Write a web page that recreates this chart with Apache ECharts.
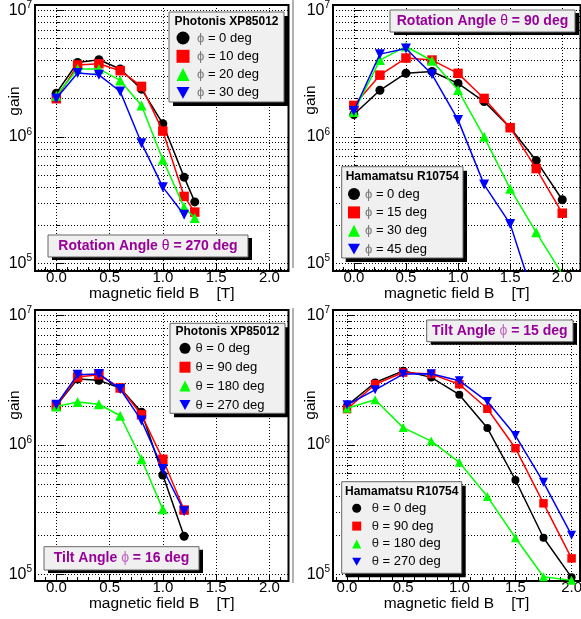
<!DOCTYPE html>
<html><head><meta charset="utf-8">
<script src="https://cdn.jsdelivr.net/npm/echarts@6/dist/echarts.min.js"></script>
<style>html,body{margin:0;padding:0;background:#fff}#c{width:581px;height:619px}</style>
</head><body><div id="c"></div>
<script>
// ---------------- data ----------------
const fieldP1 = [0.0, 0.2, 0.4, 0.6, 0.8, 1.0, 1.2, 1.3];
const fieldP3 = [0.0, 0.2, 0.4, 0.6, 0.8, 1.0, 1.2];
const fieldP24 = [0.0, 0.25, 0.5, 0.75, 1.0, 1.25, 1.5, 1.75, 2.0];

const namesP1 = ['ϕ = 0 deg', 'ϕ = 10 deg', 'ϕ = 20 deg', 'ϕ = 30 deg'];
const namesP2 = ['ϕ = 0 deg', 'ϕ = 15 deg', 'ϕ = 30 deg', 'ϕ = 45 deg'];
const namesP3 = ['θ = 0 deg', 'θ = 90 deg', 'θ = 180 deg', 'θ = 270 deg'];
const namesP4 = ['θ = 0 deg', 'θ = 90 deg', 'θ = 180 deg', 'θ = 270 deg'];

// Panel 1: Photonis XP85012, rotation angle theta = 270 deg
const p1Phi0  = [2.21e6, 3.87e6, 4.06e6, 3.43e6, 2.38e6, 1.27e6, 4.8e5, 3.06e5];
const p1Phi10 = [2.0e6, 3.69e6, 3.78e6, 3.33e6, 2.5e6, 1.11e6, 3.38e5, 2.54e5];
const p1Phi20 = [2.11e6, 3.43e6, 3.44e6, 2.79e6, 1.77e6, 6.58e5, 2.78e5, 2.28e5];
const p1Phi30 = [2.01e6, 3.19e6, 3.09e6, 2.28e6, 8.9e5, 4.0e5, 2.42e5];

// Panel 2: Hamamatsu R10754, rotation angle theta = 90 deg
const p2Phi0  = [1.50e6, 2.33e6, 3.18e6, 3.28e6, 2.64e6, 1.90e6, 1.18e6, 6.49e5, 3.18e5];
const p2Phi15 = [1.77e6, 3.07e6, 4.19e6, 4.04e6, 3.17e6, 2.01e6, 1.18e6, 5.61e5, 2.49e5];
const p2Phi30 = [1.57e6, 4.04e6, 5.18e6, 3.99e6, 2.34e6, 1.0e6, 3.89e5, 1.76e5, 8.2e4];
const p2Phi45 = [1.6e6, 4.5e6, 4.99e6, 3.12e6, 1.36e6, 4.19e5, 2.05e5, 4.7e4];

// Panel 3: Photonis XP85012, tilt angle phi = 16 deg
const p3Th0   = [2.0e6, 3.22e6, 3.15e6, 2.75e6, 1.79e6, 5.86e5, 1.97e5];
const p3Th90  = [2.0e6, 3.34e6, 3.48e6, 2.75e6, 1.71e6, 7.74e5, 3.14e5];
const p3Th180 = [1.98e6, 2.14e6, 2.06e6, 1.68e6, 7.74e5, 3.18e5];
const p3Th270 = [2.04e6, 3.48e6, 3.53e6, 2.70e6, 1.54e6, 6.52e5, 3.08e5];

// Panel 4: Hamamatsu R10754, tilt angle phi = 15 deg
const p4Th0   = [2.01e6, 3.03e6, 3.73e6, 3.32e6, 2.44e6, 1.35e6, 5.36e5, 1.92e5, 9.5e4];
const p4Th90  = [1.89e6, 2.94e6, 3.62e6, 3.52e6, 2.94e6, 1.90e6, 9.43e5, 3.54e5, 1.33e5];
const p4Th180 = [1.92e6, 2.23e6, 1.36e6, 1.07e6, 7.34e5, 3.99e5, 1.92e5, 9.6e4, 9.0e4];
const p4Th270 = [2.04e6, 2.66e6, 3.52e6, 3.54e6, 3.13e6, 2.16e6, 1.18e6, 5.14e5, 2.01e5];

const xTickLabels = [0.0, 0.5, 1.0, 1.5, 2.0];
const yTickLabels = [1e5, 1e6, 1e7];

const legendTitles = ['Photonis XP85012', 'Hamamatsu R10754', 'Photonis XP85012', 'Hamamatsu R10754'];
const annotationTexts = [
  ['Rotation Angle ', 'θ', ' = 270 deg'],
  ['Rotation Angle ', 'θ', ' = 90 deg'],
  ['Tilt Angle ', 'ϕ', ' = 16 deg'],
  ['Tilt Angle ', 'ϕ', ' = 15 deg']
];
const xTitle = 'magnetic field B    [T]';
const yTitle = 'gain';

// ---------------- layout / style ----------------
const FONT = '"Liberation Sans", Arial, Helvetica, sans-serif';
const PURPLE = '#990099';
const styles = [
  { symbol: 'circle', rotate: 0, color: '#000000', icon: 'circle' },
  { symbol: 'rect', rotate: 0, color: '#ff0000', icon: 'rect' },
  { symbol: 'triangle', rotate: 0, color: '#00ff00', icon: 'triangle' },
  { symbol: 'triangle', rotate: 180, color: '#0000ff', icon: 'path://M0,0 L10,0 L5,9 Z' }
];

const panels = [
  { grid: { left: 35, top: 5, width: 253.5, height: 266 }, xmin: -0.2, xmax: 2.18, ymin: 8.7e4, ymax: 1.1e7,
    x: fieldP1, ys: [p1Phi0, p1Phi10, p1Phi20, p1Phi30], names: namesP1, msize: [9, 9.5, 10, 10],
    legend: { box: [169, 12, 284, 102], titleY: 21.3, left: 176.5, top: 31, icon: 13, gap: 4.3, pad: 2.5, g: '#777' },
    ann: [48, 235, 248, 257], gainY: 101 },
  { grid: { left: 333, top: 5, width: 247.5, height: 266 }, xmin: -0.2, xmax: 2.175, ymin: 8.7e4, ymax: 1.1e7,
    x: fieldP24, ys: [p2Phi0, p2Phi15, p2Phi30, p2Phi45], names: namesP2, msize: [9, 9.5, 10, 10],
    legend: { box: [341.7, 166.7, 463, 258], titleY: 176.7, left: 348, top: 187, icon: 12, gap: 4.4, pad: 0, g: '#777' },
    ann: [390, 10, 575, 32], gainY: 100 },
  { grid: { left: 35, top: 310, width: 253.5, height: 271 }, xmin: -0.2, xmax: 2.18, ymin: 8.9e4, ymax: 1.1e7,
    x: fieldP3, ys: [p3Th0, p3Th90, p3Th180, p3Th270], names: namesP3, msize: [9, 9.5, 10, 10],
    legend: { box: [170, 323.3, 285, 413.3], titleY: 331.2, left: 179.5, top: 341.3, icon: 11, gap: 4.9, pad: 0, g: '#222' },
    ann: [44, 546.7, 199, 570], gainY: 405 },
  { grid: { left: 333, top: 310, width: 247, height: 271 }, xmin: -0.125, xmax: 2.075, ymin: 8.9e4, ymax: 1.1e7,
    x: fieldP24, ys: [p4Th0, p4Th90, p4Th180, p4Th270], names: namesP4, msize: [8, 8.5, 9, 9],
    legend: { box: [341.7, 481.7, 461.7, 573.3], titleY: 491.7, left: 352.2, top: 501.3, icon: 9, gap: 3.8, pad: 5.5, g: '#222' },
    ann: [426.7, 320, 573, 341.7], gainY: 405 }
];

// minor tick positions (axis decoration)
const xMinor = [];
for (let k = -2; k <= 22; k++) xMinor.push(+(k * 0.1).toFixed(2));
const yMinor = [];
for (let e = 4; e <= 7; e++) for (let m = 1; m <= 9; m++) yMinor.push(m * Math.pow(10, e));

const grids = [], xAxes = [], yAxes = [], series = [], legends = [], graphics = [];
const dotted = { color: '#000', width: 1, type: [1, 2] };
const SEP = '#';

panels.forEach((p, i) => {
  grids.push(Object.assign({ show: true, borderColor: '#000', borderWidth: 2, backgroundColor: 'transparent',
    containLabel: false, outerBoundsMode: 'none' }, p.grid));
  // major x axis
  xAxes.push({ type: 'value', gridIndex: i, position: 'bottom', min: p.xmin, max: p.xmax,
    axisLine: { show: false },
    axisTick: { show: true, inside: true, length: 7, customValues: xTickLabels, lineStyle: { color: '#000', width: 1 } },
    axisLabel: { show: true, customValues: xTickLabels, margin: -1, color: '#000', fontSize: 15, fontFamily: FONT,
      formatter: v => v.toFixed(1) },
    splitLine: { show: true, lineStyle: dotted },
    name: xTitle, nameLocation: 'middle', nameGap: 15,
    nameTextStyle: { color: '#000', fontSize: 15.5, fontFamily: FONT } });
  // minor x ticks
  xAxes.push({ type: 'value', gridIndex: i, position: 'bottom', min: p.xmin, max: p.xmax,
    axisLine: { show: false }, axisLabel: { show: false }, splitLine: { show: false },
    axisTick: { show: true, inside: true, length: 4, customValues: xMinor, lineStyle: { color: '#000', width: 1 } } });
  // major y axis
  yAxes.push({ type: 'log', logBase: 10, gridIndex: i, position: 'left', min: p.ymin, max: p.ymax,
    axisLine: { show: false },
    axisTick: { show: true, inside: true, length: 8, customValues: yTickLabels, lineStyle: { color: '#000', width: 1 } },
    axisLabel: { show: true, customValues: yTickLabels, margin: 3,
      formatter: v => '{b|10}{s|' + Math.round(Math.log10(v)) + '}',
      rich: { b: { fontSize: 16, lineHeight: 20, fontFamily: FONT, color: '#000' },
              s: { fontSize: 10, lineHeight: 10, verticalAlign: 'top', fontFamily: FONT, color: '#000' } } },
    splitLine: { show: false } });
  // minor y ticks + dotted grid
  yAxes.push({ type: 'log', logBase: 10, gridIndex: i, position: 'left', min: p.ymin, max: p.ymax,
    axisLine: { show: false }, axisLabel: { show: false },
    axisTick: { show: true, inside: true, length: 4, customValues: yMinor, lineStyle: { color: '#000', width: 1 } },
    splitLine: { show: true, lineStyle: dotted } });

  p.ys.forEach((ys, s) => {
    const st = styles[s];
    series.push({ type: 'line', name: p.names[s] + SEP + i, xAxisIndex: 2 * i, yAxisIndex: 2 * i,
      data: ys.map((y, k) => [p.x[k], y]),
      symbol: st.symbol, symbolRotate: st.rotate, symbolSize: p.msize[s],
      lineStyle: { color: st.color, width: 1.5 },
      itemStyle: { color: st.color, borderWidth: 0 },
      clip: true, silent: true, emphasis: { disabled: true }, z: 3 + s });
  });

  const L = p.legend;
  legends.push({ orient: 'vertical', left: L.left, top: L.top, padding: 0, itemGap: L.gap,
    itemWidth: L.icon, itemHeight: L.icon, symbolRotate: 0, selectedMode: false, z: 20,
    data: p.names.map((n, s) => ({ name: n + SEP + i, icon: styles[s].icon })),
    formatter: n => { const t = n.split(SEP)[0]; return '{g|' + t.charAt(0) + '}' + t.slice(1); },
    textStyle: { color: '#000', fontSize: 13, fontFamily: FONT, lineHeight: 14, padding: [0, 0, 0, L.pad],
      rich: { g: { color: L.g, fontSize: 13, fontFamily: FONT, lineHeight: 14 } } } });

  const [bx1, by1, bx2, by2] = L.box;
  graphics.push({ type: 'rect', z: 10, silent: true, shape: { x: bx1 + 4, y: by1 + 4, width: bx2 - bx1, height: by2 - by1 },
    style: { fill: '#000' } });
  graphics.push({ type: 'rect', z: 11, silent: true, shape: { x: bx1, y: by1, width: bx2 - bx1, height: by2 - by1 },
    style: { fill: '#f0f0f0', stroke: '#666', lineWidth: 1 } });
  graphics.push({ type: 'text', z: 12, silent: true, x: (bx1 + bx2) / 2, y: L.titleY,
    style: { text: legendTitles[i], fill: '#000', font: 'bold 12px ' + FONT, textAlign: 'center', textVerticalAlign: 'middle' } });

  const [ax1, ay1, ax2, ay2] = p.ann;
  const parts = annotationTexts[i];
  const gCol = parts[1] === 'ϕ' ? '#c466c4' : PURPLE;
  graphics.push({ type: 'rect', z: 10, silent: true, shape: { x: ax1 + 4, y: ay1 + 3, width: ax2 - ax1, height: ay2 - ay1 },
    style: { fill: '#000' } });
  graphics.push({ type: 'rect', z: 11, silent: true, shape: { x: ax1, y: ay1, width: ax2 - ax1, height: ay2 - ay1 },
    style: { fill: '#f0f0f0', stroke: '#666', lineWidth: 1 } });
  graphics.push({ type: 'text', z: 12, silent: true, x: (ax1 + ax2) / 2, y: (ay1 + ay2) / 2,
    style: { text: '{a|' + parts[0] + '}{g|' + parts[1] + '}{a|' + parts[2] + '}', textAlign: 'center', textVerticalAlign: 'middle',
      rich: { a: { fill: PURPLE, color: PURPLE, fontWeight: 'bold', fontSize: 14, fontFamily: FONT },
              g: { fill: gCol, color: gCol, fontSize: 14, fontFamily: FONT } } } });

  graphics.push({ type: 'text', z: 12, silent: true, x: i % 2 === 0 ? 15 : 311, y: p.gainY, rotation: Math.PI / 2,
    style: { text: yTitle, fill: '#000', font: '15.5px ' + FONT, textAlign: 'center', textVerticalAlign: 'middle' } });
});

// pad border lines of the right-hand pads
graphics.push({ type: 'line', silent: true, z: 1, shape: { x1: 293, y1: 0, x2: 293, y2: 268 }, style: { stroke: '#999', lineWidth: 1.5 } });
graphics.push({ type: 'line', silent: true, z: 1, shape: { x1: 293, y1: 308, x2: 293, y2: 583 }, style: { stroke: '#999', lineWidth: 1.5 } });

const chart = echarts.init(document.getElementById('c'), null, { renderer: 'canvas' });
chart.setOption({
  animation: false,
  backgroundColor: '#fff',
  grid: grids, xAxis: xAxes, yAxis: yAxes, series: series, legend: legends, graphic: graphics,
  tooltip: { show: false }
});
</script></body></html>
